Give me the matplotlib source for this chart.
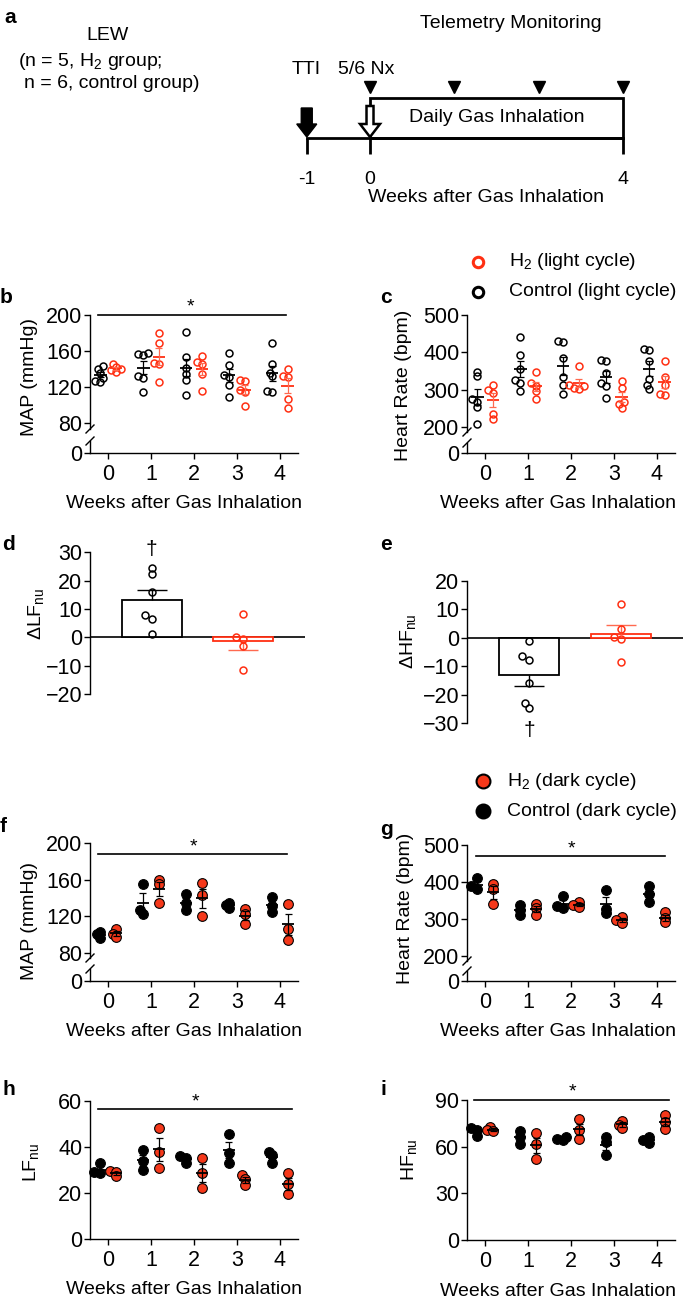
import numpy as np
import matplotlib
matplotlib.use("Agg")
import matplotlib.pyplot as plt
from matplotlib.patches import Polygon, Rectangle

plt.rcParams['font.family'] = ['Liberation Sans', 'DejaVu Sans']
plt.rcParams['mathtext.fontset'] = 'custom'
plt.rcParams['mathtext.rm'] = 'Liberation Sans'
plt.rcParams['mathtext.it'] = 'Liberation Sans:italic'
plt.rcParams['mathtext.bf'] = 'Liberation Sans:bold'
plt.rcParams['axes.linewidth'] = 1.0

W, H = 685, 1302
FS = 14
TICK_FS = 15.5
RED_LIGHT = '#ff2f12'
RED_LIGHT_ERR = '#ff6a50'
RED_DARK = '#f5381a'

weeks = [0, 1, 2, 3, 4]
week_labels = ['0', '1', '2', '3', '4']

# panel a schematic (weeks)
timeline_weeks = [-1, 0, 4]
telemetry_weeks = [0, 4 / 3, 8 / 3, 4]

# b: MAP, light cycle (control n = 6, H2 n = 5)
map_light_ctrl = [
    [143, 140, 136, 130, 127, 126],
    [158, 157, 156, 132, 130, 115],
    [181, 153, 141, 135, 128, 111],
    [158, 145, 133, 131, 122, 109],
    [169, 146, 136, 132, 116, 114],
]
map_light_h2 = [
    [146, 142, 140, 139, 137],
    [180, 169, 147, 146, 126],
    [154, 148, 146, 135, 116],
    [128, 127, 117, 114, 99],
    [140, 132, 131, 107, 97],
]
# c: heart rate, light cycle
hr_light_ctrl = [
    [349, 337, 276, 268, 253, 209],
    [442, 393, 355, 326, 318, 298],
    [430, 428, 384, 335, 313, 289],
    [379, 377, 344, 318, 311, 279],
    [409, 407, 378, 330, 313, 302],
]
hr_light_h2 = [
    [313, 300, 291, 236, 222],
    [349, 318, 310, 298, 276],
    [364, 312, 310, 306, 302],
    [323, 304, 268, 262, 252],
    [377, 335, 313, 290, 287],
]
# d, e: change in LFnu / HFnu
dlf_ctrl = [24.5, 22.2, 16.0, 7.9, 6.5, 1.0]
dlf_h2 = [8.4, 0.2, -0.5, -3.0, -11.6]
dhf_ctrl = [-1.2, -6.4, -7.9, -16.0, -22.8, -24.8]
dhf_h2 = [11.7, 3.05, 0.3, -0.3, -8.4]

# f-i: dark cycle (n = 3 each)
map_dark_ctrl = [[103, 100, 96], [155, 127, 123], [144, 134, 127], [135, 132, 129], [141, 131, 125]]
map_dark_h2 = [[106, 101, 97], [160, 155, 134], [156, 143, 120], [128, 123, 111], [133, 106, 94]]
hr_dark_ctrl = [[410, 388, 381], [338, 324, 311], [362, 334, 329], [379, 328, 315], [388, 367, 345]]
hr_dark_h2 = [[395, 380, 340], [341, 329, 311], [346, 338, 333], [306, 297, 290], [318, 302, 291]]
lf_dark_ctrl = [[33, 29, 28.5], [38.5, 34, 30], [36, 35, 33], [45.5, 37.5, 33], [37.7, 36.5, 33.2]]
lf_dark_h2 = [[29.5, 29, 27.2], [48, 38, 31], [35.3, 28.9, 22.1], [27.7, 26, 23.4], [28.8, 23.8, 19.6]]
hf_dark_ctrl = [[72, 70.5, 67], [70, 66, 62], [66.5, 65, 64], [66.5, 63, 54.5], [66.5, 64, 62.5]]
hf_dark_h2 = [[72.5, 70.5, 70], [68.7, 61.9, 52.1], [77.7, 70.8, 64.9], [76.8, 74, 72], [80.5, 76, 71.3]]

fig = plt.figure(figsize=(W / 100, H / 100), dpi=100)


def px_axes(l, t, r, b):
    ax = fig.add_axes([l / W, 1 - b / H, (r - l) / W, (b - t) / H])
    ax.set_facecolor('none')
    return ax


def style(ax, bottom=True):
    ax.spines['top'].set_visible(False)
    ax.spines['right'].set_visible(False)
    ax.tick_params(axis='y', labelsize=TICK_FS, length=4, width=1, pad=1.5)
    ax.tick_params(axis='x', labelsize=TICK_FS, length=4, width=1, pad=4)
    if not bottom:
        ax.spines['bottom'].set_visible(False)
        ax.tick_params(axis='x', bottom=False, labelbottom=False)


def swarm(ax, xc, vals, diam, thr, step):
    # spread points sideways only where they would sit on top of each other
    xy = ax.transData.transform(np.column_stack([np.full(len(vals), xc), vals]))
    placed = []
    out = np.empty(len(vals))
    for i in np.argsort(vals):
        px, py = xy[i]
        for k in (0, -1, 1, -2, 2, -3, 3, -4, 4):
            cx = px + k * step * diam
            if all(np.hypot(cx - qx, py - qy) >= thr * diam for qx, qy in placed):
                break
        placed.append((cx, py))
        out[i] = ax.transData.inverted().transform((cx, py))[0]
    return out


def timecourse(ax, ctrl, h2, dark):
    off = 0.19 if dark else 0.18
    for w, c_vals, h_vals in zip(weeks, ctrl, h2):
        for vals, dx, col in ((c_vals, -off, 'k'), (h_vals, off, RED_DARK if dark else RED_LIGHT)):
            x = w + dx
            if dark:
                xs = swarm(ax, x, vals, 10, 0.4, 0.3)
                ax.plot(xs, vals, 'o', ms=7, mfc=col, mec='k', mew=0.8, zorder=3, clip_on=False)
                lc = ec = 'k'
            else:
                xs = swarm(ax, x, vals, 7, 0.6, 0.35)
                ax.plot(xs, vals, 'o', ms=5, mfc='none', mec=col, mew=1.1, zorder=3, clip_on=False)
                lc = col
                ec = 'k' if col == 'k' else RED_LIGHT_ERR
            m = np.mean(vals)
            s = np.std(vals, ddof=1) / np.sqrt(len(vals))
            ax.hlines(m, x - 0.145, x + 0.145, color=lc, lw=1.3, zorder=4)
            ax.vlines(x, m - s, m + s, color=ec, lw=0.9, zorder=4)
            ax.hlines([m - s, m + s], x - 0.08, x + 0.08, color=ec, lw=0.9, zorder=4)


def broken(l, r, px_ref, val_ref, scale, top_b, bot_t, zero_px, yticks):
    top = px_axes(l, px_ref, r, top_b)
    top.set_ylim(val_ref - (top_b - px_ref) / scale, val_ref)
    bot = px_axes(l, bot_t, r, zero_px)
    bot.set_ylim(0, (zero_px - bot_t) / scale)
    for ax in (top, bot):
        ax.set_xlim(-0.42, 4.42)
    style(top, bottom=False)
    style(bot)
    top.set_yticks(yticks)
    bot.set_yticks([0])
    bot.set_xticks(weeks, week_labels)
    return top, bot


# ---- b / c: light cycle ----
b_top, b_bot = broken(90, 298, 315, 200, 0.9, 429, 441, 452.7, [80, 120, 160, 200])
timecourse(b_top, map_light_ctrl, map_light_h2, dark=False)
b_top.plot([-0.23, 4.14], [200, 200], color='k', lw=1.2, clip_on=False)

c_top, c_bot = broken(467, 675, 315, 500, 0.3743, 432, 443, 452.7, [200, 300, 400, 500])
timecourse(c_top, hr_light_ctrl, hr_light_h2, dark=False)


# ---- d / e: delta bars ----
def delta_panel(ax, ctrl, h2, ylim, yticks):
    ax.set_xlim(-0.673, 1.675)
    ax.set_ylim(*ylim)
    style(ax, bottom=False)
    ax.set_yticks(yticks)
    ax.axhline(0, color='k', lw=1.2, zorder=1)
    for i, (vals, col, ec) in enumerate(((ctrl, 'k', 'k'), (h2, RED_LIGHT, RED_LIGHT_ERR))):
        m = np.mean(vals)
        s = np.std(vals, ddof=1) / np.sqrt(len(vals))
        ax.bar(i, m, width=0.655, facecolor='white', edgecolor=col, lw=1.3, zorder=2)
        e = m + s if m > 0 else m - s
        ax.vlines(i, m, e, color=ec, lw=1.0, zorder=3)
        ax.hlines(e, i - 0.165, i + 0.165, color=ec, lw=1.0, zorder=3)
        xs = swarm(ax, i, vals, 7, 0.85, 0.5)
        ax.plot(xs, vals, 'o', ms=5, mfc='none', mec=col, mew=1.1, zorder=4, clip_on=False)


ax_d = px_axes(90, 552.3, 305, 694)
delta_panel(ax_d, dlf_ctrl, dlf_h2, (-20, 30), [-20, -10, 0, 10, 20, 30])
ax_d.text(0, 31, '†', ha='center', va='center', fontsize=FS + 1)

ax_e = px_axes(467, 580.7, 683, 723.3)
delta_panel(ax_e, dhf_ctrl, dhf_h2, (-30, 20), [-30, -20, -10, 0, 10, 20])
ax_e.text(0, -32.4, '†', ha='center', va='center', fontsize=FS + 1)

# ---- f / g: dark cycle ----
f_top, f_bot = broken(90, 298, 843.3, 200, 0.9117, 958, 969, 981, [80, 120, 160, 200])
timecourse(f_top, map_dark_ctrl, map_dark_h2, dark=True)
f_top.plot([-0.23, 4.16], [188, 188], color='k', lw=1.2, clip_on=False)

g_top, g_bot = broken(467, 675, 845, 500, 0.37, 961, 971, 981, [200, 300, 400, 500])
timecourse(g_top, hr_dark_ctrl, hr_dark_h2, dark=True)
g_top.plot([-0.21, 4.19], [471, 471], color='k', lw=1.2, clip_on=False)

# ---- h / i ----
ax_h = px_axes(90, 1100.7, 298, 1239.3)
ax_h.set_xlim(-0.42, 4.42)
ax_h.set_ylim(0, 60)
style(ax_h)
ax_h.set_yticks([0, 20, 40, 60])
ax_h.set_xticks(weeks, week_labels)
timecourse(ax_h, lf_dark_ctrl, lf_dark_h2, dark=True)
ax_h.plot([-0.24, 4.29], [56.3, 56.3], color='k', lw=1.2, clip_on=False)

ax_i = px_axes(467, 1100, 675, 1240)
ax_i.set_xlim(-0.42, 4.42)
ax_i.set_ylim(0, 90)
style(ax_i)
ax_i.set_yticks([0, 30, 60, 90])
ax_i.set_xticks(weeks, week_labels)
timecourse(ax_i, hf_dark_ctrl, hf_dark_h2, dark=True)
ax_i.plot([-0.25, 4.28], [90, 90], color='k', lw=1.2, clip_on=False)

# ---- a: schematic, x in weeks, y in pixels ----
ax_a = px_axes(280, 0, 685, 210)
ax_a.set_xlim(-1.423, 4.98)
ax_a.set_ylim(210, 0)
ax_a.axis('off')
ax_a.plot(telemetry_weeks, [87.3] * 4, 'v', color='k', ms=8.5)
ax_a.add_patch(Rectangle((0, 98.3), 4, 40, fill=False, lw=2, ec='k'))
ax_a.plot([timeline_weeks[0], timeline_weeks[-1]], [138.3, 138.3], color='k', lw=2)
ax_a.vlines(timeline_weeks, 138.3, 154.3, color='k', lw=2)
for w in timeline_weeks:
    ax_a.text(w, 180, str(w), ha='center', va='center', fontsize=FS)
px_w = 63.25
x0 = timeline_weeks[0]
ax_a.add_patch(Polygon([(x0 - 5.5 / px_w, 108), (x0 + 5.5 / px_w, 108), (x0 + 5.5 / px_w, 124),
                        (x0 + 10 / px_w, 124), (x0, 137), (x0 - 10 / px_w, 124),
                        (x0 - 5.5 / px_w, 124)], closed=True, fc='k', ec='k', lw=1))
x1 = timeline_weeks[1]
ax_a.add_patch(Polygon([(x1 - 3.5 / px_w, 106), (x1 + 3.5 / px_w, 106), (x1 + 3.5 / px_w, 124),
                        (x1 + 10 / px_w, 124), (x1, 137), (x1 - 10 / px_w, 124),
                        (x1 - 3.5 / px_w, 124)], closed=True, fc='white', ec='k', lw=1.8,
                       zorder=5))
ax_a.text(2, 118, 'Daily Gas Inhalation', ha='center', va='center', fontsize=FS)

# ---- overlay in pixel coordinates for labels ----
over = fig.add_axes([0, 0, 1, 1], facecolor='none')
over.set_xlim(0, W)
over.set_ylim(H, 0)
over.axis('off')


def t(x, y, s, **kw):
    kw.setdefault('fontsize', FS)
    over.text(x, y, s, **kw)


for x, y, s in [(4, 23, 'a'), (0, 303, 'b'), (380, 303, 'c'), (2, 550, 'd'), (380, 550, 'e'),
                (0, 832, 'f'), (380, 835, 'g'), (2, 1095, 'h'), (381, 1095, 'i')]:
    t(x, y, s, fontsize=15, fontweight='bold', va='baseline')

t(108, 36, 'LEW', ha='center', va='center')
t(18, 62, '(n = 5, H$_2$ group;', va='center')
t(24, 83, 'n = 6, control group)', va='center')
t(511, 24, 'Telemetry Monitoring', ha='center', va='center')
t(306, 70, 'TTI', ha='center', va='center')
t(366, 70, '5/6 Nx', ha='center', va='center')
t(486, 198, 'Weeks after Gas Inhalation', ha='center', va='center')

# legends
over.plot(478, 262, 'o', ms=7.5, mfc='none', mec=RED_LIGHT, mew=2.2)
over.plot(478, 292, 'o', ms=7.5, mfc='none', mec='k', mew=2.2)
t(509, 262, 'H$_2$ (light cycle)', va='center')
t(509, 292, 'Control (light cycle)', va='center')
over.plot(483, 781, 'o', ms=10, mfc=RED_DARK, mec='k', mew=1.5)
over.plot(483, 811, 'o', ms=10, mfc='k', mec='k', mew=1.5)
t(507, 781, 'H$_2$ (dark cycle)', va='center')
t(507, 811, 'Control (dark cycle)', va='center')

# axis labels
for x, y in [(184, 503), (558, 503), (184, 1032), (558, 1031), (184, 1289), (558, 1292)]:
    t(x, y, 'Weeks after Gas Inhalation', ha='center', va='center')
for x, y, s in [(30, 377, 'MAP (mmHg)'), (404, 385, 'Heart Rate (bpm)'),
                (36, 614, 'ΔLF$_{\\rm nu}$'), (408, 641, 'ΔHF$_{\\rm nu}$'),
                (30, 921, 'MAP (mmHg)'), (406, 908, 'Heart Rate (bpm)'),
                (31, 1162, 'LF$_{\\rm nu}$'), (409, 1160, 'HF$_{\\rm nu}$')]:
    t(x, y, s, ha='center', va='center', rotation=90)

# significance stars
for x, y in [(190, 300), (193, 840), (571, 842), (195, 1095), (572, 1085)]:
    t(x, y + 7, '*', ha='center', va='center')

# axis break marks
for x, y in [(90, 429), (90, 441), (467, 432), (467, 443), (90, 958), (90, 969), (467, 961), (467, 971)]:
    over.plot([x - 4, x + 4], [y + 4, y - 4], color='k', lw=1)

fig.savefig('out.png', dpi=100)
